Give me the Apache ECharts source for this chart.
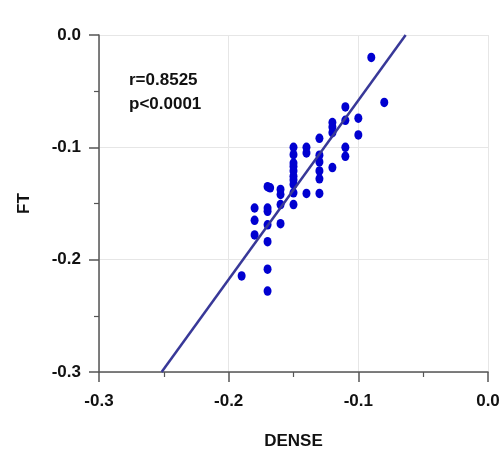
<!DOCTYPE html>
<html>
<head>
<meta charset="utf-8">
<script src="https://cdn.jsdelivr.net/npm/echarts@6/dist/echarts.min.js"></script>
<style>html,body{margin:0;padding:0;background:#fff;}#c{width:502px;height:450px;}</style>
</head>
<body>
<div id="c"></div>
<script>
var denseX = [-0.09,-0.08,-0.11,-0.10,-0.11,-0.12,-0.12,-0.12,-0.10,-0.13,-0.11,-0.11,-0.14,-0.14,-0.13,-0.13,-0.13,-0.13,-0.13,-0.12,-0.14,
  -0.15,-0.15,-0.15,-0.15,-0.15,-0.15,-0.15,-0.15,-0.15,-0.15,
  -0.16,-0.16,-0.16,-0.16,
  -0.17,-0.168,-0.17,-0.17,-0.17,-0.17,-0.17,-0.17,
  -0.18,-0.18,-0.18,-0.19];
var ftY = [-0.02,-0.06,-0.064,-0.074,-0.076,-0.078,-0.082,-0.087,-0.089,-0.092,-0.100,-0.108,-0.100,-0.105,-0.107,-0.113,-0.121,-0.128,-0.141,-0.118,-0.141,
  -0.100,-0.1065,-0.114,-0.117,-0.121,-0.1257,-0.129,-0.133,-0.1405,-0.151,
  -0.1375,-0.142,-0.151,-0.168,
  -0.135,-0.136,-0.154,-0.157,-0.169,-0.184,-0.2085,-0.228,
  -0.154,-0.165,-0.178,-0.2145];
var fitX = [-0.2517, -0.0635];
var fitY = [-0.30, 0.0];
var annotation = ['r=0.8525', 'p<0.0001'];
var xName = 'DENSE', yName = 'FT';

var pts = denseX.map(function(x, i){ return [x, ftY[i]]; });
var fit = fitX.map(function(x, i){ return [x, fitY[i]]; });
function fmt(v){ var s = Math.abs(v) < 1e-9 ? 0 : v; return s.toFixed(1); }
var font = {fontFamily: 'Liberation Sans', fontWeight: 'bold', fontSize: 17, color: '#111'};
var axisCommon = {
  type: 'value', interval: 0.1,
  axisLine: {show: true, onZero: false, lineStyle: {color: '#555', width: 1.5}},
  axisTick: {show: true, inside: false, length: 10, lineStyle: {color: '#555', width: 1.5}},
  minorTick: {show: true, splitNumber: 2, length: 5, lineStyle: {color: '#555', width: 1.2}},
  splitLine: {show: true, lineStyle: {color: '#e6e6e6', width: 1}},
  minorSplitLine: {show: false},
  nameLocation: 'middle',
  nameTextStyle: font
};
var chart = echarts.init(document.getElementById('c'), null, {renderer: 'canvas'});
chart.setOption({
  backgroundColor: '#fff',
  animation: false,
  grid: {left: 99, right: 14, top: 35, bottom: 78, containLabel: false, outerBoundsMode: 'none'},
  xAxis: Object.assign({}, axisCommon, {
    min: -0.3, max: 0, name: xName, nameGap: 61,
    axisLabel: Object.assign({margin: 21, formatter: fmt}, font)
  }),
  yAxis: Object.assign({}, axisCommon, {
    min: -0.3, max: 0, name: yName, nameGap: 66, nameRotate: 90,
    axisLabel: Object.assign({margin: 18, formatter: fmt}, font)
  }),
  graphic: [{
    type: 'text', left: 129, top: 68,
    style: {text: annotation.join('\n'), font: 'bold 17px "Liberation Sans"', fill: '#111', lineHeight: 24}
  }],
  series: [{
    type: 'line', data: fit, symbol: 'none', silent: true,
    lineStyle: {color: '#383898', width: 2.5}, z: 3
  }, {
    type: 'scatter', data: pts, symbol: 'circle', symbolSize: [8, 9.5],
    itemStyle: {color: '#0000d0', opacity: 1}, z: 2
  }]
});
</script>
</body>
</html>
